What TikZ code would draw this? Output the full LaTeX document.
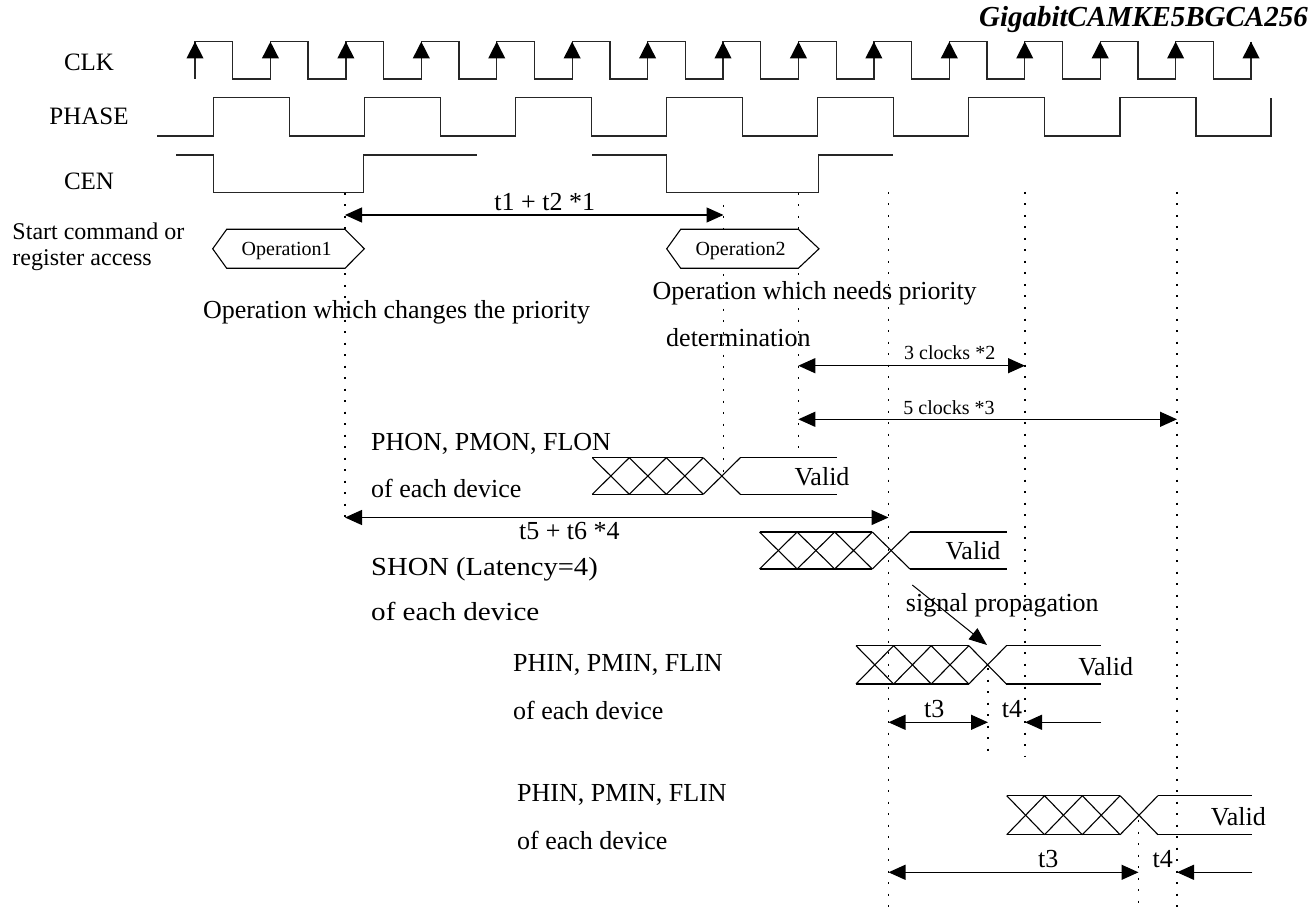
\documentclass[tikz,border=0pt]{standalone}
\usepackage{fontspec}
\setmainfont{Liberation Serif}
\usepackage{graphicx}
\usetikzlibrary{arrows.meta}
\newcommand{\hatchbox}[5]{%
  \draw[hatchl] (#1,#2) -- ({#1+3*#4},#2) (#1,#3) -- ({#1+3*#4},#3);
  \foreach \i in {0,1,2,3} {
    \draw[hatchl] ({#1+\i*#4},#2) -- ({#1+(\i+1)*#4},#3);
    \draw[hatchl] ({#1+\i*#4},#3) -- ({#1+(\i+1)*#4},#2);
  }
  \draw[hatchl] ({#1+4*#4},#2) -- (#5,#2) ({#1+4*#4},#3) -- (#5,#3);
}
\tikzset{
  sig/.style={line width=1.3pt, black!85, line join=miter},
  hatchl/.style={line width=1.1pt, black},
  dotl/.style={line width=1.1pt, black, dash pattern=on 2pt off 9.5pt},
  dimarr/.style={line width=1.3pt, black, {Triangle[length=17pt,width=15pt]}-{Triangle[length=17pt,width=15pt]}},
  onearr/.style={line width=1.3pt, black, -{Triangle[length=17pt,width=15pt]}},
  hexa/.style={line width=1.1pt, black, fill=white},
  txt/.style={font=\fontsize{26}{30}\selectfont, inner sep=0pt},
  lbl/.style={font=\fontsize{25}{30}\selectfont, inner sep=0pt},
  small/.style={font=\fontsize{20}{24}\selectfont, inner sep=0pt},
  ttl/.style={font=\fontsize{29}{33}\selectfont\bfseries\itshape, inner sep=0pt},
}
\begin{document}
\begin{tikzpicture}[x=1pt,y=-1pt]
\useasboundingbox[fill=white] (0,0) rectangle (1314,909);

% title
\node[ttl, anchor=base east] (title) at (1308,26.7) {GigabitCAMKE5BGCA256};

% signal names
\node[lbl, anchor=base] (clk) at (89,71) {CLK};
\node[lbl, anchor=base] (phase) at (89,125) {PHASE};
\node[lbl, anchor=base] (cen) at (89,190) {CEN};

% CLK waveform
\draw[sig] (195,79) -- (195,41.7)
  \foreach \k in {0,...,13} {
    -- ({195+75.43*\k+37.7},41.7) -- ({195+75.43*\k+37.7},79)
    -- ({195+75.43*(\k+1)},79) -- ({195+75.43*(\k+1)},41.7)
  };
\foreach \k in {0,...,14} {
  \fill[black] ({195+75.43*\k},41.7) -- ({195+75.43*\k-8.6},58.5) -- ({195+75.43*\k+8.6},58.5) -- cycle;
}

% PHASE waveform
\draw[sig] (157,136)
  \foreach \j in {0,...,6} {
    -- ({213.3+151.1*\j},136) -- ({213.3+151.1*\j},97.7)
    -- ({289.3+151.1*\j},97.7) -- ({289.3+151.1*\j},136)
  } -- (1271,136) -- (1271,97.7);

% CEN waveform
\draw[sig] (176,155) -- (213.3,155) -- (213.3,192.3) -- (363.3,192.3) -- (363.3,155) -- (476.7,155);
\draw[sig] (592.3,155) -- (666.7,155) -- (666.7,192.3) -- (818.7,192.3) -- (818.7,155) -- (893.3,155);

% dotted reference lines
\coordinate (d1t) at (345,193);    \coordinate (d1b) at (345,522);
\coordinate (d2t) at (723.5,205);  \coordinate (d2b) at (723.5,476);
\coordinate (d3t) at (798.3,193);  \coordinate (d3b) at (798.3,453);
\coordinate (d4t) at (888.5,192);  \coordinate (d4b) at (888.5,907);
\coordinate (d5t) at (1025,192);   \coordinate (d5b) at (1025,757);
\coordinate (d6t) at (988,668);    \coordinate (d6b) at (988,757);
\coordinate (d7t) at (1177,192);   \coordinate (d7b) at (1177,907);
\coordinate (d8t) at (1138.5,820); \coordinate (d8b) at (1138.5,907);
\foreach \n in {1,...,8} { \draw[dotl] (d\n t) -- (d\n b); }

% start command labels
\node[font=\fontsize{24}{28}\selectfont, inner sep=0pt, anchor=base west] (start1) at (12.3,239.5) {Start command or};
\node[font=\fontsize{24}{28}\selectfont, inner sep=0pt, anchor=base west] (start2) at (12.3,266) {register access};

% operation hexagons
\draw[hexa] (212.7,248.8) -- (226.7,229.3) -- (345,229.3) -- (364.3,248.8) -- (345,268.3) -- (226.7,268.3) -- cycle;
\node[small, anchor=base] (op1) at (286.7,256) {Operation1};
\draw[hexa] (666.7,248.8) -- (680.7,229.3) -- (798.3,229.3) -- (819,248.8) -- (798.3,268.3) -- (680.7,268.3) -- cycle;
\node[small, anchor=base] (op2) at (740.5,256) {Operation2};

% t1 + t2
\coordinate (a1l) at (345,215); \coordinate (a1r) at (723.5,215);
\draw[dimarr] (a1l) -- (a1r);
\node[txt, anchor=base] (t12) at (544.7,210.7) {t1 + t2 *1};

\node[txt, anchor=base west] (opchg) at (202.8,318.3) {Operation which changes the priority};
\node[txt, anchor=base west] (opneed1) at (652.3,299) {Operation which needs priority};
\node[txt, anchor=base west] (opneed2) at (666,346.7) {determination};

% 3 clocks / 5 clocks
\coordinate (c3l) at (798.3,365.7); \coordinate (c3r) at (1025,365.7);
\draw[dimarr] (c3l) -- (c3r);
\node[small, anchor=base] (c3) at (949.7,359.3) {3 clocks *2};
\coordinate (c5l) at (798.3,419.3); \coordinate (c5r) at (1177,419.3);
\draw[dimarr] (c5l) -- (c5r);
\node[small, anchor=base] (c5) at (949,414) {5 clocks *3};

% PHON
\node[txt, anchor=base west] (phon) at (371,450) {PHON, PMON, FLON};
\node[txt, anchor=base west] (phon2) at (371,497.3) {of each device};
\hatchbox{592.3}{457.7}{494.3}{37}{836.7}
\node[txt, anchor=base] (v1) at (822,485.7) {Valid};

% t5 + t6
\coordinate (a5l) at (345,517.5); \coordinate (a5r) at (888.5,517.5);
\draw[dimarr] (a5l) -- (a5r);
\node[txt, anchor=base] (t56) at (569.4,539.3) {t5 + t6 *4};

% SHON
\node[txt, anchor=base west] (shon) at (371,575) {\scalebox{1.1}[1]{SHON (Latency=4)}};
\node[txt, anchor=base west] (shon2) at (371,620) {\scalebox{1.12}[1]{of each device}};
\hatchbox{759.5}{532}{569}{37.6}{1006.7}
\node[txt, anchor=base] (v2) at (973,559.3) {Valid};

% signal propagation
\node[txt, anchor=base west] (sp) at (905.7,611.7) {signal propagation};
\coordinate (spa) at (912.3,585); \coordinate (spb) at (987,645);
\draw[line width=1pt, black, -{Triangle[length=18pt,width=14pt]}] (spa) -- (spb);

% PHIN 1
\node[txt, anchor=base west] (phin1) at (513,671.7) {PHIN, PMIN, FLIN};
\node[txt, anchor=base west] (phin1b) at (513,719) {of each device};
\hatchbox{856}{645.7}{684}{37.6}{1101}
\node[txt, anchor=base] (v3) at (1105.7,675) {Valid};
\coordinate (t3al) at (888.5,722.3); \coordinate (t3ar) at (988,722.3);
\draw[dimarr] (t3al) -- (t3ar);
\node[txt, anchor=base] (t3a) at (934.3,717.7) {t3};
\coordinate (t4as) at (1101,722.3); \coordinate (t4ae) at (1025,722.3);
\draw[onearr] (t4as) -- (t4ae);
\node[txt, anchor=base] (t4a) at (1012,717.7) {t4};

% PHIN 2
\node[txt, anchor=base west] (phin2) at (517,801.7) {PHIN, PMIN, FLIN};
\node[txt, anchor=base west] (phin2b) at (517,849.3) {of each device};
\hatchbox{1006.7}{795.7}{834.7}{37.8}{1252.3}
\node[txt, anchor=base] (v4) at (1238.3,825.7) {Valid};
\coordinate (t3bl) at (888.5,872.3); \coordinate (t3br) at (1138.5,872.3);
\draw[dimarr] (t3bl) -- (t3br);
\node[txt, anchor=base] (t3b) at (1048.3,867.3) {t3};
\coordinate (t4bs) at (1252.3,872.3); \coordinate (t4be) at (1177,872.3);
\draw[onearr] (t4bs) -- (t4be);
\node[txt, anchor=base] (t4b) at (1162.7,867.3) {t4};
\end{tikzpicture}
\end{document}
